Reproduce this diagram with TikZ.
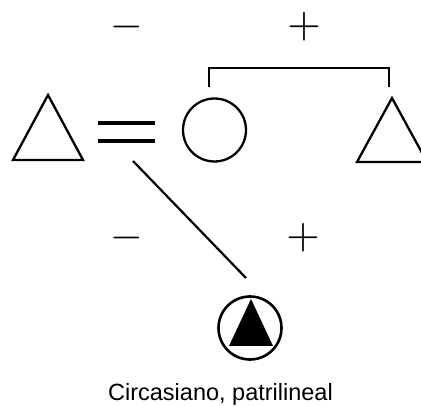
\documentclass[tikz,border=0pt]{standalone}
\usepackage{fontspec}
\usepackage{graphicx}
\newfontfamily\capfont{Liberation Sans}
\begin{document}
\begin{tikzpicture}[x=1pt,y=-1pt,
  shapeline/.style={line width=2.3pt, line join=miter},
  sign/.style={inner sep=0pt},
  person/.style={circle, draw, line width=2.3pt, minimum size=63pt, inner sep=0pt}]
\useasboundingbox (0,0) rectangle (421,406);
\clip (0,0) rectangle (421,406);
% signs
\node[sign] (m1) at (127,27) {\scalebox{4.2}{$-$}};
\node[sign] (p1) at (304,27) {\scalebox{4.3}{$+$}};
\node[sign] (m2) at (127,238) {\scalebox{4.2}{$-$}};
\node[sign] (p2) at (303,238) {\scalebox{4.3}{$+$}};
% left triangle (husband)
\coordinate (husband) at (48,128);
\draw[shapeline] (48,95) -- (83,160) -- (13,160) -- cycle;
% marriage sign
\coordinate (eqL) at (98,123);
\coordinate (eqR) at (155,123);
\coordinate (eqL2) at (98,141);
\coordinate (eqR2) at (155,141);
\draw[line width=3.5pt] (eqL) -- (eqR);
\draw[line width=3.5pt] (eqL2) -- (eqR2);
% wife circle
\node[person] (wife) at (214.5,130) {};
% right triangle (brother)
\coordinate (brother) at (392,130);
\draw[shapeline] (392,98) -- (427,162) -- (357,162) -- cycle;
% sibling bracket
\coordinate (bl) at (209,87);
\coordinate (br) at (389,87);
\draw[line width=2.5pt] (bl) -- (209,68) -- (389,68) -- (br);
% descent line
\coordinate (ds) at (133,161);
\coordinate (de) at (246,278);
\draw[line width=2.2pt] (ds) -- (de);
% child: circle with filled triangle
\node[person, line width=2.6pt] (child) at (250,328) {};
\fill (251,299) -- (273,346) -- (229,346) -- cycle;
% caption
\node[anchor=base, inner sep=0pt, font=\capfont\fontsize{23.5}{26}\selectfont] (cap) at (220.5,401) {Circasiano, patrilineal};
\end{tikzpicture}
\end{document}
